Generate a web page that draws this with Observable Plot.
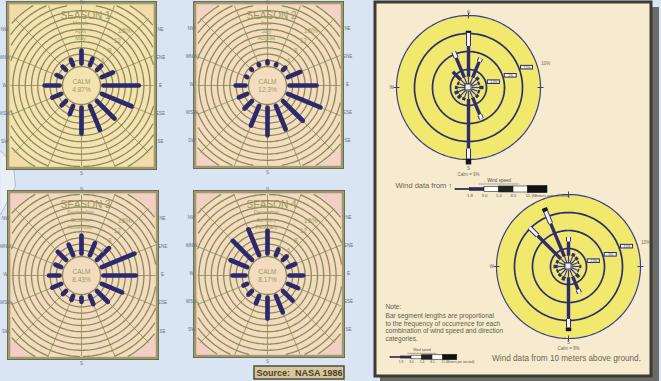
<!DOCTYPE html>
<html><head><meta charset="utf-8">
<script src="https://cdn.jsdelivr.net/npm/d3@7"></script>
<script src="https://cdn.jsdelivr.net/npm/@observablehq/plot@0.6"></script>
<style>
html,body{margin:0;padding:0;background:#d9e5f2;}
#chart{width:661px;height:381px;overflow:hidden;}
</style></head><body><div id="chart"></div>
<script>
// ---------------- DATA ----------------
const directions = ["N","NNE","NE","ENE","E","ESE","SE","SSE","S","SSW","SW","WSW","W","WNW","NW","NNW"];
const seasonTitles = ["SEASON 1","SEASON 2","SEASON 3","SEASON 4"];
const seasonMonths = [["March","April","May"],["June","July","August"],["September","October","November"],["December","January","February"]];
const calmLabels = ["4.87%","12.3%","8.43%","8.17%"];
// percent frequency by direction (N, NNE, ... NNW)
const season1Freq = [5.8,3.9,3.5,5.5,13.0,12.0,9.6,10.0,10.0,4.5,3.6,4.7,6.4,3.2,3.1,3.5];
const season2Freq = [2.3,2.0,2.6,6.0,10.3,13.0,10.6,9.8,10.6,8.5,5.0,4.5,4.8,2.0,1.3,1.3];
const season3Freq = [7.4,5.8,7.0,13.0,12.0,8.7,6.5,4.5,3.0,3.0,3.0,4.7,5.0,3.6,5.3,5.3];
const season4Freq = [9.0,3.6,3.2,4.2,6.0,5.2,6.0,7.4,8.4,4.2,3.2,2.9,5.8,7.4,10.3,10.6];
const ringTickValues = [4,8,12,16];
const ringTickLabels = ["4","8","12","16%"];
const edgeLabelsLeft = ["NW","WNW","W","WSW","SW"];
const edgeLabelsRight = ["NE","ENE","E","ESE","SE"];

// right panel roses: percent by speed class (thin, navy, white, black)
const topRoseClassA = [1.0,1.0,1.0,0.9,1.0,0.9,1.0,1.0,1.1,1.0,1.0,1.0,1.0,0.9,1.0,1.0];
const topRoseClassB = [4.3,2.4,0.5,0.3,0.6,0.3,0.4,2.6,6.9,0.4,0.6,0.6,0.4,0.3,1.6,3.0];
const topRoseClassC = [1.8,0.5,0,0,0,0,0,0.6,1.4,0,0,0,0,0,0,0.9];
const topRoseClassD = [0.3,0,0,0,0,0,0,0,0.8,0,0,0,0,0,0,0];
const botRoseClassA = [1.0,1.0,0.9,0.9,1.0,0.9,1.0,1.0,1.0,1.0,1.0,1.0,1.0,1.0,1.0,1.0];
const botRoseClassB = [2.0,0.5,0.4,0.2,0.3,0.2,0.6,2.0,5.8,0.6,0.4,0.3,0.6,0.4,4.6,5.0];
const botRoseClassC = [0.6,0,0,0,0,0,0,0.5,1.2,0,0,0,0,0,1.6,1.8];
const botRoseClassD = [0,0,0,0,0,0,0,0,0.5,0,0,0,0,0,0,0.5];
const roseRingValues = [2.5,5,7.5,10];
const roseRingTagLabels = ["2.5%","5%","7.5%"];
const speedLabels = ["1.8","3.0","5.4","8.5","11"];
const speedUnit = "(Meters per second)";
const calmRightLabel = "Calm = 9%";
const noteLines = ["Note:","Bar segment lengths are proportional","to the frequency of occurrence for each","combination of wind speed and direction","categories."];
const sourceLabel = "Source:  NASA 1986";

// ---------------- LAYOUT ----------------
const W = 661, H = 381;
const NAVY = "#2c2a6c", OLIVE = "#8c8a58", TXT = "#9c985f";
const panels = [
  {x1:8,y1:3,x2:155,y2:168,cx:81,cy:85,bg:"#f0dca4",disc:"#f4e3b0",freq:season1Freq},
  {x1:195,y1:3,x2:342,y2:167,cx:267,cy:85,bg:"#f4d3c4",disc:"#f4dcbf",freq:season2Freq},
  {x1:9,y1:192,x2:157,y2:358,cx:81,cy:275,bg:"#f2cfc2",disc:"#f3dbbf",freq:season3Freq},
  {x1:195,y1:192,x2:343,y2:356,cx:267,cy:275,bg:"#f2cfc2",disc:"#f3dbbf",freq:season4Freq}
];
const R0 = 19, K = 3.1, RING_STEP = 2, NRINGS = 13, DISC_R = 95;
const rad = d => d*Math.PI/180;
const ang = i => rad(i*22.5);

const discPts = [], ringPts = [], spokes = [], bars = [], panelTexts = [], edgeTexts = [];
panels.forEach((p,pi)=>{
  for (let t=0;t<=360;t+=2){
    const x = p.cx + DISC_R*Math.sin(rad(t)), y = p.cy - DISC_R*Math.cos(rad(t));
    discPts.push({pi, x: Math.max(p.x1+2,Math.min(p.x2-2,x)), y: Math.max(p.y1+2,Math.min(p.y2-2,y))});
  }
  for (let k=0;k<NRINGS;k++){
    const r = R0 + k*RING_STEP*K;
    for (let t=0;t<=360;t+=1.5){
      let x = p.cx + r*Math.sin(rad(t)), y = p.cy - r*Math.cos(rad(t));
      const inside = x>p.x1+2 && x<p.x2-2 && y>p.y1+2 && y<p.y2-2;
      ringPts.push({key: pi*100+k, x: inside?x:NaN, y: inside?y:NaN});
    }
  }
  directions.forEach((d,i)=>{
    const a = ang(i);
    const sx = Math.sin(a), sy = -Math.cos(a);
    const lim = [DISC_R];
    if (sx>1e-6) lim.push((p.x2-2-p.cx)/sx); if (sx<-1e-6) lim.push((p.x1+2-p.cx)/sx);
    if (sy>1e-6) lim.push((p.y2-2-p.cy)/sy); if (sy<-1e-6) lim.push((p.y1+2-p.cy)/sy);
    const r2 = Math.min(...lim);
    spokes.push({x1:p.cx+R0*sx, y1:p.cy+R0*sy, x2:p.cx+r2*sx, y2:p.cy+r2*sy});
    const v = p.freq[i];
    const rin = R0+3, rout = Math.max(rin+1, R0 + v*K - 2);
    bars.push({x1:p.cx+rin*sx, y1:p.cy+rin*sy, x2:p.cx+rout*sx, y2:p.cy+rout*sy});
  });
  panelTexts.push({x:p.cx+4, y:p.y1+12, text:seasonTitles[pi], size:10, weight:"bold"});
  seasonMonths[pi].forEach((m,j)=>panelTexts.push({x:p.cx-1, y:p.y1+20+j*7.5, text:m, size:5.5, weight:"normal"}));
  ringTickValues.forEach((v,j)=>{
    const r = R0 + v*K, a = rad(37);
    panelTexts.push({x:p.cx + r*Math.sin(a)+2, y:p.cy - r*Math.cos(a), text:ringTickLabels[j], size: j===3?7:6.5, weight:"normal"});
  });
  panelTexts.push({x:p.cx, y:p.cy-4, text:"CALM", size:6.5, weight:"bold"});
  panelTexts.push({x:p.cx, y:p.cy+4, text:calmLabels[pi], size:6.5, weight:"bold"});
  const h = p.y2-p.y1;
  edgeLabelsLeft.forEach((l,j)=>edgeTexts.push({x:p.x1-4, y:p.y1+h*(0.155+0.17*j), text:l}));
  edgeLabelsRight.forEach((l,j)=>edgeTexts.push({x:p.x2+5, y:p.y1+h*(0.155+0.17*j), text:l}));
  edgeTexts.push({x:p.cx, y:Math.max(2.5, p.y1-2.5), text:"N"});
  edgeTexts.push({x:p.cx, y:p.y2+5, text:"S"});
});

// right panel roses
const roses = [
  {cx:468, cy:87, sOff:9, cOff:15, classes:[topRoseClassA,topRoseClassB,topRoseClassC,topRoseClassD]},
  {cx:568, cy:266, sOff:4.5, cOff:10.5, classes:[botRoseClassA,botRoseClassB,botRoseClassC,botRoseClassD]}
];
const RK = 7.2, RR0 = 3.5;
const roseDisc = [], roseRings = [], roseSegs = [], roseTags = [], roseTexts = [], roseTicks = [];
roses.forEach((c,ri)=>{
  const outer = roseRingValues[3]*RK;
  for (let t=0;t<=360;t+=2) roseDisc.push({ri, x:c.cx+outer*Math.sin(rad(t)), y:c.cy-outer*Math.cos(rad(t))});
  roseRingValues.slice(0,3).forEach((v,k)=>{
    for (let t=0;t<=360;t+=2) roseRings.push({key:ri*10+k, x:c.cx+v*RK*Math.sin(rad(t)), y:c.cy-v*RK*Math.cos(rad(t))});
  });
  directions.forEach((d,i)=>{
    const sx = Math.sin(ang(i)), sy = -Math.cos(ang(i));
    let r = RR0;
    c.classes.forEach((arr,ci)=>{
      const len = arr[i]*RK;
      if (len>0){ roseSegs.push({cls:ci, x1:c.cx+r*sx, y1:c.cy+r*sy, x2:c.cx+(r+len)*sx, y2:c.cy+(r+len)*sy}); r+=len; }
    });
  });
  roseRingTagLabels.forEach((l,k)=>{
    const r = roseRingValues[k]*RK + 4, a = rad(76 - k*3);
    roseTags.push({x:c.cx + r*Math.sin(a)+4, y:c.cy - r*Math.cos(a), text:l});
  });
  const rl = outer + 6, al = rad(72);
  roseTexts.push({x:c.cx + rl*Math.sin(al)+3, y:c.cy - rl*Math.cos(al), text:"10%"});
  roseTexts.push({x:c.cx - outer - 5, y:c.cy, text:"W"});
  roseTexts.push({x:c.cx, y:c.cy + outer + c.sOff, text:"S"});
  roseTexts.push({x:c.cx, y:c.cy + outer + c.cOff, text:calmRightLabel});
  if (ri===0) roseTexts.push({x:c.cx, y:c.cy - outer - 3, text:"N"});
  [0,90,180,270].forEach(t=>{
    const sx = Math.sin(rad(t)), sy=-Math.cos(rad(t));
    roseTicks.push({x1:c.cx+(outer-3)*sx, y1:c.cy+(outer-3)*sy, x2:c.cx+(outer+3)*sx, y2:c.cy+(outer+3)*sy});
  });
});

// legends
const legendBoxes = [], legendTicks = [], legendUnits = [], legendBrackets = [];
const legends = [{x0:455, step:14.5, y:189, s:1}, {x0:390, step:10.5, y:357, s:0.75}];
const segStyles = [
  {h:0.6, fill:NAVY},{h:1.4, fill:NAVY},{h:2.4, fill:"#ffffff"},{h:3.0, fill:"#222"},{h:3.0, fill:"#ffffff"},{h:3.6, fill:"#111"}
];
legends.forEach((L,li)=>{
  segStyles.forEach((s,i)=>{
    const last = i===segStyles.length-1;
    legendBoxes.push({x1:L.x0+i*L.step, x2:L.x0+(i+1)*L.step + (last?5*L.s:0), y1:L.y - s.h*L.s, y2:L.y + s.h*L.s, fill:s.fill});
  });
  speedLabels.forEach((l,i)=>legendTicks.push({x:L.x0+(i+1)*L.step, y:L.y+6*L.s, text:l, s:L.s}));
  legendUnits.push({x:L.x0+5*L.step+3.5*L.s, y:L.y+6*L.s, text:speedUnit, s:L.s});
  legendBrackets.push({x1:L.x0+1.6*L.step, x2:L.x0+4.4*L.step, y:L.y-5.5*L.s, s:L.s});
});

const chevron = [{x:0,y:150},{x:13,y:165},{x:15,y:186},{x:0,y:214}];

// ---------------- PLOT ----------------
const FONT = "Liberation Sans, Arial, sans-serif";
const linkPx = (data, opts) => Plot.link(data, {x1:"x1",y1:"y1",x2:"x2",y2:"y2", ...opts});
const chart = Plot.plot({
  width: W, height: H, margin: 0,
  x: {domain:[0,W], range:[0,W], axis:null},
  y: {domain:[0,H], range:[0,H], axis:null},
  color: {type:"identity"},
  style: {background:"#d9e5f2", fontFamily: FONT, overflow:"hidden"},
  marks: [
    Plot.line(chevron, {x:"x", y:"y", fill:"#e9eff7", stroke:"#b3bdc9", strokeWidth:1}),
    // season panels
    Plot.rect(panels, {x1:d=>d.x1-2, x2:d=>d.x2+2, y1:d=>d.y1-2, y2:d=>d.y2+2, fill:"#5f5c42"}),
    Plot.rect(panels, {x1:"x1", x2:"x2", y1:"y1", y2:"y2", fill:"bg", stroke:"#9d9a70", strokeWidth:2.5}),
    Plot.line(discPts, {x:"x", y:"y", z:"pi", fill:d=>panels[d.pi].disc, stroke:"none", curve:"linear-closed"}),
    Plot.line(ringPts, {x:"x", y:"y", z:"key", stroke:OLIVE, strokeWidth:1.3}),
    linkPx(spokes, {stroke:OLIVE, strokeWidth:0.8}),
    linkPx(bars, {stroke:NAVY, strokeWidth:4.7, strokeLinecap:"round"}),
    Plot.text(panelTexts, {x:"x", y:"y", text:"text", fontSize:d=>d.size, fontWeight:d=>d.weight, fill:TXT}),
    Plot.text(edgeTexts, {x:"x", y:"y", text:"text", fontSize:4.5, fill:"#6a6f78"}),
    // source box
    Plot.rect([{x1:254,x2:344,y1:366,y2:379}], {x1:"x1",x2:"x2",y1:"y1",y2:"y2", fill:"#d7c69c", stroke:"#4f4b3a", strokeWidth:1.5}),
    Plot.text([{x:299, y:373, text:sourceLabel}], {x:"x", y:"y", text:"text", fontSize:9, fill:"#4a3f2a", fontWeight:"bold"}),
    // right panel
    Plot.rect([{x1:380,x2:659,y1:7,y2:381}], {x1:"x1",x2:"x2",y1:"y1",y2:"y2", fill:"#6c6b66"}),
    Plot.rect([{x1:375,x2:651,y1:2,y2:376}], {x1:"x1",x2:"x2",y1:"y1",y2:"y2", fill:"#f7ebcf", stroke:"#3b3a35", strokeWidth:3}),
    Plot.line(roseDisc, {x:"x", y:"y", z:"ri", fill:"#f1e96d", stroke:"#3e3a8c", strokeWidth:1.2, curve:"linear-closed"}),
    Plot.line(roseRings, {x:"x", y:"y", z:"key", stroke:"#2f2c6e", strokeWidth:1.7}),
    linkPx(roseTicks, {stroke:"#3e3a8c", strokeWidth:1}),
    linkPx(roseSegs.filter(d=>d.cls===0), {stroke:"#3e3a8c", strokeWidth:1.2}),
    linkPx(roseSegs.filter(d=>d.cls===1), {stroke:"#2f2c70", strokeWidth:3.4}),
    linkPx(roseSegs.filter(d=>d.cls===2), {stroke:"#2f2c70", strokeWidth:5}),
    linkPx(roseSegs.filter(d=>d.cls===2), {stroke:"#f4f4f4", strokeWidth:3}),
    linkPx(roseSegs.filter(d=>d.cls===3), {stroke:"#151515", strokeWidth:5.5}),
    Plot.rect(roses, {x1:d=>d.cx-3, x2:d=>d.cx+3, y1:d=>d.cy-3, y2:d=>d.cy+3, fill:"#f4f1d0", stroke:"#2f2c70", strokeWidth:1}),
    Plot.rect(roseTags, {x1:d=>d.x-6, x2:d=>d.x+6, y1:d=>d.y-1.8, y2:d=>d.y+1.8, fill:"#f4f2e4", stroke:"#2f2c70", strokeWidth:1}),
    Plot.text(roseTags, {x:"x", y:"y", text:"text", fontSize:3, fill:"#2f2c70"}),
    Plot.text(roseTexts, {x:"x", y:"y", text:"text", fontSize:4.5, fill:"#6d6a5a"}),
    // legends
    Plot.rect(legendBoxes, {x1:"x1",x2:"x2",y1:"y1",y2:"y2", fill:"fill", stroke:"#222", strokeWidth:0.6}),
    Plot.text(legendTicks, {x:"x", y:"y", text:"text", fontSize:d=>4.3*d.s, fill:"#55524a"}),
    Plot.text(legendUnits, {x:"x", y:"y", text:"text", fontSize:d=>4.3*d.s, fill:"#55524a", textAnchor:"start"}),
    Plot.link(legendBrackets, {x1:"x1", x2:"x2", y1:"y", y2:"y", stroke:"#77746a", strokeWidth:0.6}),
    Plot.text(legendBrackets, {x:d=>(d.x1+d.x2)/2, y:d=>d.y-3, text:()=>"Wind speed", fontSize:d=>4.5*d.s, fill:"#55524a"}),
    Plot.text([{x:395,y:185,text:"Wind data from \u2191"}], {x:"x", y:"y", text:"text", fontSize:7.5, fill:"#6b6550", textAnchor:"start"}),
    Plot.text(noteLines.map((t,i)=>({x:385, y:306 + (i===0?0:2) + i*7.5, text:t})), {x:"x", y:"y", text:"text", fontSize:6.6, fill:"#625d47", textAnchor:"start"}),
    Plot.text([{x:566,y:358,text:"Wind data from 10 meters above ground."}], {x:"x", y:"y", text:"text", fontSize:8.2, fill:"#6b6550"})
  ]
});
document.getElementById("chart").appendChild(chart);
</script></body></html>
